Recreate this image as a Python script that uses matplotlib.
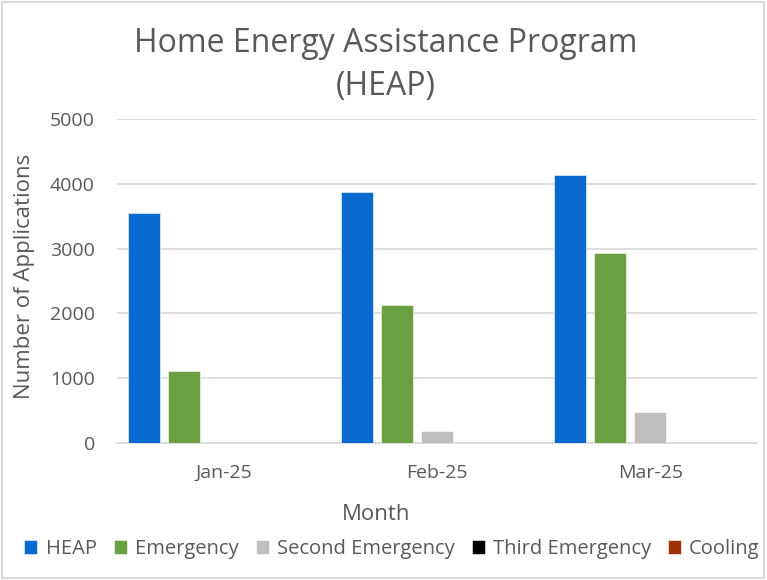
import matplotlib
matplotlib.use("Agg")
import matplotlib.pyplot as plt
import numpy as np
from matplotlib.patches import Rectangle

months = ["Jan-25", "Feb-25", "Mar-25"]
series_names = ["HEAP", "Emergency", "Second Emergency", "Third Emergency", "Cooling"]
heap = [3545, 3869, 4141]
emergency = [1116, 2125, 2932]
second_emergency = [0, 190, 483]
third_emergency = [0, 0, 0]
cooling = [0, 0, 0]
colors = ["#0869D1", "#6AA042", "#BFBFBF", "#000000", "#9E3203"]
yticks = [0, 1000, 2000, 3000, 4000, 5000]

plt.rcParams['font.family'] = ['Open Sans', 'DejaVu Sans']
txt = "#595959"

fig = plt.figure(figsize=(7.67, 5.8), dpi=100)
ax = fig.add_axes([117/767, 1-443/580, 640/767, 324/580])

data = [heap, emergency, second_emergency, third_emergency, cooling]
x = np.arange(len(months))
w = 0.15
step = 0.1875
for i, (name, vals) in enumerate(zip(series_names, data)):
    ax.bar(x + (i - 2) * step, vals, width=w, color=colors[i], label=name,
           edgecolor="white", linewidth=0.4, zorder=3)

ax.set_xlim(-0.5, 2.5)
ax.set_ylim(0, 5000)
ax.set_yticks(yticks)
ax.set_xticks(x)
ax.set_xticklabels(months)
ax.yaxis.grid(True, color="#D9D9D9", linewidth=1.2, zorder=0)
for s in ax.spines.values():
    s.set_visible(False)
ax.spines['bottom'].set_visible(True)
ax.spines['bottom'].set_color("#D9D9D9")
ax.spines['bottom'].set_linewidth(1.2)
ax.tick_params(axis='both', length=0, colors=txt, labelsize=14)
ax.tick_params(axis='x', pad=15)
ax.tick_params(axis='y', pad=16)

ax.set_ylabel("Number of Applications", fontsize=16, color=txt)
ax.yaxis.label.set_va('center')
ax.yaxis.label.set_ha('center')
ax.yaxis.set_label_coords((24-117)/640, (443-276)/324)
ax.set_xlabel("Month", fontsize=16, color=txt)
ax.xaxis.label.set_va('center')
ax.xaxis.set_label_coords(0.5 + (376-437)/640, (443-514)/324)

fig.text(386/767, 1-43/580, "Home Energy Assistance Program", ha="center", va="center",
         fontsize=23, color=txt)
fig.text(386/767, 1-87/580, "(HEAP)", ha="center", va="center", fontsize=23, color=txt)

handles, labels = ax.get_legend_handles_labels()
fig.legend(handles, labels, loc="center", bbox_to_anchor=(392/767, 1-549/580), ncol=5,
           frameon=False, fontsize=14.5, labelcolor=txt, handlelength=0.65, handleheight=0.65,
           handletextpad=0.4, columnspacing=0.85)

fig.patches.append(Rectangle((0.002, 0.004), 0.994, 0.993, transform=fig.transFigure,
                             fill=False, edgecolor="#D9D9D9", linewidth=1.5))

fig.savefig("out.png", dpi=100, facecolor="white")
